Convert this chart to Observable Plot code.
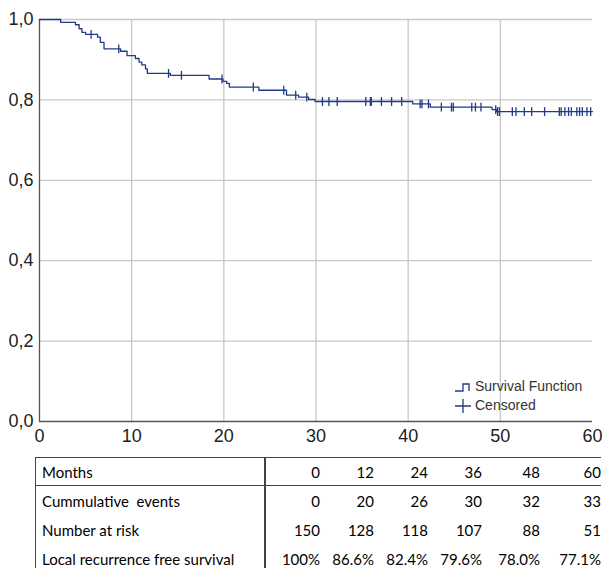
<!DOCTYPE html>
<html>
<head>
<meta charset="utf-8">
<script src="https://cdn.jsdelivr.net/npm/d3@7"></script>
<script src="https://cdn.jsdelivr.net/npm/@observablehq/plot@0.6"></script>
<style>
  html, body { margin: 0; padding: 0; background: #fff; }
  #wrap { position: relative; width: 603px; height: 568px; overflow: hidden; }
  #chart { position: absolute; left: 0; top: 0; }
  #legend { position: absolute; left: 452px; top: 377px; font-family: 'Liberation Sans', Arial, sans-serif; font-size: 14px; color: #333; line-height: 19px; }
  #legend div { display: flex; align-items: center; }
  #legend svg { margin-right: 1px; }
  table { position: absolute; left: 35px; top: 457px; border-collapse: collapse; font-family: Lato, sans-serif; font-size: 15px; color: #000; }
  td { padding: 0; height: 29px; white-space: nowrap; text-align: right; }
  td.lab { text-align: left; padding-left: 6px; width: 222px; border-left: 1px solid #444; border-right: 2px solid #444; }
  tr.head td { border-top: 1px solid #444; border-bottom: 1px solid #444; height: 27px; }
</style>
</head>
<body>
<div id="wrap">
  <div id="chart"></div>
  <div id="legend">
    <div><svg width="22" height="14"><path d="M3,11 H11 V4 H17 V11" fill="none" stroke="#1f3b87" stroke-width="1.3"/></svg>Survival Function</div>
    <div><svg width="22" height="14"><path d="M3,7 H19 M11,0 V14" fill="none" stroke="#1f3b87" stroke-width="1.3"/></svg>Censored</div>
  </div>
  <table id="risk"></table>
</div>
<script>
// Kaplan-Meier step points (months, survival after the drop)
const stepTimes = [0, 2.3, 3.9, 4.3, 4.6, 5.0, 6.3, 6.6, 7.0, 8.8, 9.5, 10.4, 10.8, 11.1, 11.5, 11.7, 14.2, 18.4, 19.9, 20.3, 20.6, 23.8, 26.8, 28.1, 29.2, 29.9, 40.5, 42.4, 49.1, 49.6, 60];
const stepSurv  = [1.0, 0.993, 0.987, 0.977, 0.968, 0.963, 0.956, 0.943, 0.927, 0.921, 0.910, 0.903, 0.894, 0.887, 0.877, 0.866, 0.861, 0.852, 0.846, 0.841, 0.832, 0.824, 0.812, 0.807, 0.801, 0.796, 0.790, 0.782, 0.776, 0.771, 0.771];
// Censored observation times (months)
const censoredTimes = [5.6, 8.6, 14.0, 15.4, 19.8, 23.2, 26.5, 27.8, 29.0, 30.7, 31.4, 32.3, 35.4, 35.9, 36.0, 37.1, 38.2, 39.3, 41.3, 41.5, 42.2, 43.6, 44.7, 44.9, 46.9, 47.3, 47.9, 49.5, 49.7, 49.9, 51.3, 51.7, 52.6, 53.4, 54.8, 56.4, 56.6, 57.0, 57.4, 57.7, 58.3, 58.6, 58.9, 59.4, 59.8];

// Risk table
const tableMonths = [0, 12, 24, 36, 48, 60];
const cumEvents = [0, 20, 26, 30, 32, 33];
const atRisk = [150, 128, 118, 107, 88, 51];
const lrfs = ["100%", "86.6%", "82.4%", "79.6%", "78.0%", "77.1%"];

const xTicks = [0, 10, 20, 30, 40, 50, 60];
const yTicks = [0, 0.2, 0.4, 0.6, 0.8, 1.0];

const steps = stepTimes.map((t, i) => ({t, s: stepSurv[i]}));
function survAt(t) {
  let s = 1;
  for (const p of steps) if (p.t <= t) s = p.s;
  return s;
}
const cens = censoredTimes.map(t => ({t, s: survAt(t)}));

const color = "#1f3b87";
const yFmt = d => d3.format(".1f")(d).replace(".", ",");
const plot = Plot.plot({
  width: 603,
  height: 450,
  marginLeft: 39,
  marginRight: 11,
  marginTop: 19,
  marginBottom: 29,
  style: {fontFamily: "'Liberation Sans', Arial, sans-serif", fontSize: "18px", color: "#222", background: "transparent"},
  x: {domain: [0, 60], label: null},
  y: {domain: [0, 1], label: null},
  marks: [
    Plot.ruleX(xTicks.filter(d => d > 0 && d < 60), {stroke: "#c8c8c8", strokeOpacity: 1, strokeWidth: 1.3}),
    Plot.ruleY(yTicks.filter(d => d > 0), {stroke: "#c8c8c8", strokeOpacity: 1, strokeWidth: 1.3}),
    Plot.ruleX([0], {stroke: "#555", strokeWidth: 1.3}),
    Plot.ruleY([0], {stroke: "#555", strokeWidth: 1.3}),
    Plot.axisX({ticks: xTicks, tickSize: 0, tickPadding: 4, fontSize: 18, dy: 4, label: null}),
    Plot.axisY({ticks: yTicks, tickSize: 0, tickPadding: 6, fontSize: 18, tickFormat: yFmt, label: null}),
    Plot.line(steps, {x: "t", y: "s", curve: "step-after", stroke: color, strokeWidth: 1.3}),
    Plot.link(cens, {x1: "t", x2: "t", y1: d => d.s - 0.011, y2: d => d.s + 0.011, stroke: color, strokeWidth: 1.3})
  ]
});
document.getElementById("chart").appendChild(plot);

// Build risk table
const rows = [
  ["Months", tableMonths],
  ["Cummulative  events", cumEvents],
  ["Number at risk", atRisk],
  ["Local recurrence free survival", lrfs]
];
const colWidths = [54, 54, 54, 54, 58, 61];
const tbl = document.getElementById("risk");
rows.forEach((r, i) => {
  const tr = document.createElement("tr");
  if (i === 0) tr.className = "head";
  const td0 = document.createElement("td");
  td0.className = "lab";
  td0.textContent = r[0];
  td0.style.whiteSpace = "pre";
  tr.appendChild(td0);
  r[1].forEach((v, j) => {
    const td = document.createElement("td");
    td.style.width = colWidths[j] + "px";
    td.textContent = v;
    tr.appendChild(td);
  });
  tbl.appendChild(tr);
});
</script>
</body>
</html>
